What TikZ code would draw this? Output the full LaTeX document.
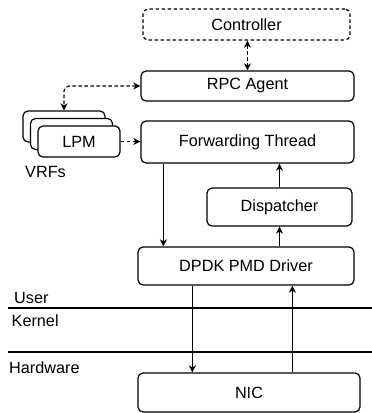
\documentclass[tikz,border=0pt]{standalone}
\usepackage{fontspec}
\setmainfont{Liberation Sans}
\usetikzlibrary{arrows.meta}
\begin{document}
\begin{tikzpicture}[x=1bp,y=-1bp,
  tip/.tip={Stealth[length=7bp,width=7bp,inset=2bp]},
  box/.style={draw,line width=1.2bp,rounded corners=5bp,inner sep=0pt,fill=white},
  arr/.style={line width=1.2bp,-tip},
  dsh/.style={dash pattern=on 3.5bp off 2.5bp},
  darr/.style={line width=1.2bp,dsh,tip-tip},
  lbl/.style={anchor=west,inner sep=0pt},
  every node/.style={font=\fontsize{16.3}{19}\selectfont}]
\useasboundingbox (0,0) rectangle (372,413);
\node[box,dsh,minimum width=207bp,minimum height=31bp] (ctrl) at (246.5,24.5) {Controller};
\node[box,minimum width=213bp,minimum height=30bp] (rpc) at (247.5,86) {RPC Agent};
\node[box,minimum width=213bp,minimum height=42bp] (ft) at (247.5,142) {Forwarding Thread};
\node[box,minimum width=145bp,minimum height=38bp] (disp) at (279.5,207) {Dispatcher};
\node[box,minimum width=216bp,minimum height=38bp] (dpdk) at (246,266) {DPDK PMD Driver};
\node[box,minimum width=222bp,minimum height=39bp] (nic) at (249,392.5) {NIC};
\node[box,minimum width=82bp,minimum height=31bp] (lpm3) at (64,126.5) {};
\node[box,minimum width=82bp,minimum height=31bp] (lpm2) at (71.5,134) {};
\node[box,minimum width=82bp,minimum height=31bp] (lpm1) at (79,141.5) {LPM};
\node[lbl] (vrf) at (25,172) {VRFs};
% dashed connectors
\draw[darr] (ctrl.south -| rpc.north) -- (rpc.north);
\draw[darr,rounded corners=5bp] (rpc.west) -| (lpm3.north);
\draw[line width=1.2bp,dsh,-tip] (lpm1.east) -- (ft.west |- lpm1.east);
% solid connectors
\draw[arr] (ft.south west) ++(23,0) coordinate (a) -- (a |- dpdk.north);
\draw[arr] (disp.north) -- (disp.north |- ft.south);
\draw[arr] (disp.south |- dpdk.north) -- (disp.south);
\draw[arr] (dpdk.south west) ++(55,0) coordinate (b) -- (b |- nic.north);
\draw[arr] (nic.north west) ++(155,0) coordinate (c) -- (c |- dpdk.south);
% layer lines
\coordinate (l1a) at (8,308); \coordinate (l1b) at (372,308);
\coordinate (l2a) at (8,352); \coordinate (l2b) at (372,352);
\draw[line width=1.2bp] (l1a) -- (l1b);
\draw[line width=1.2bp] (l2a) -- (l2b);
\node[lbl] (user) at (14,298) {User};
\node[lbl] (kern) at (11.5,321) {Kernel};
\node[lbl] (hw) at (9,368) {Hardware};
\end{tikzpicture}
\end{document}
